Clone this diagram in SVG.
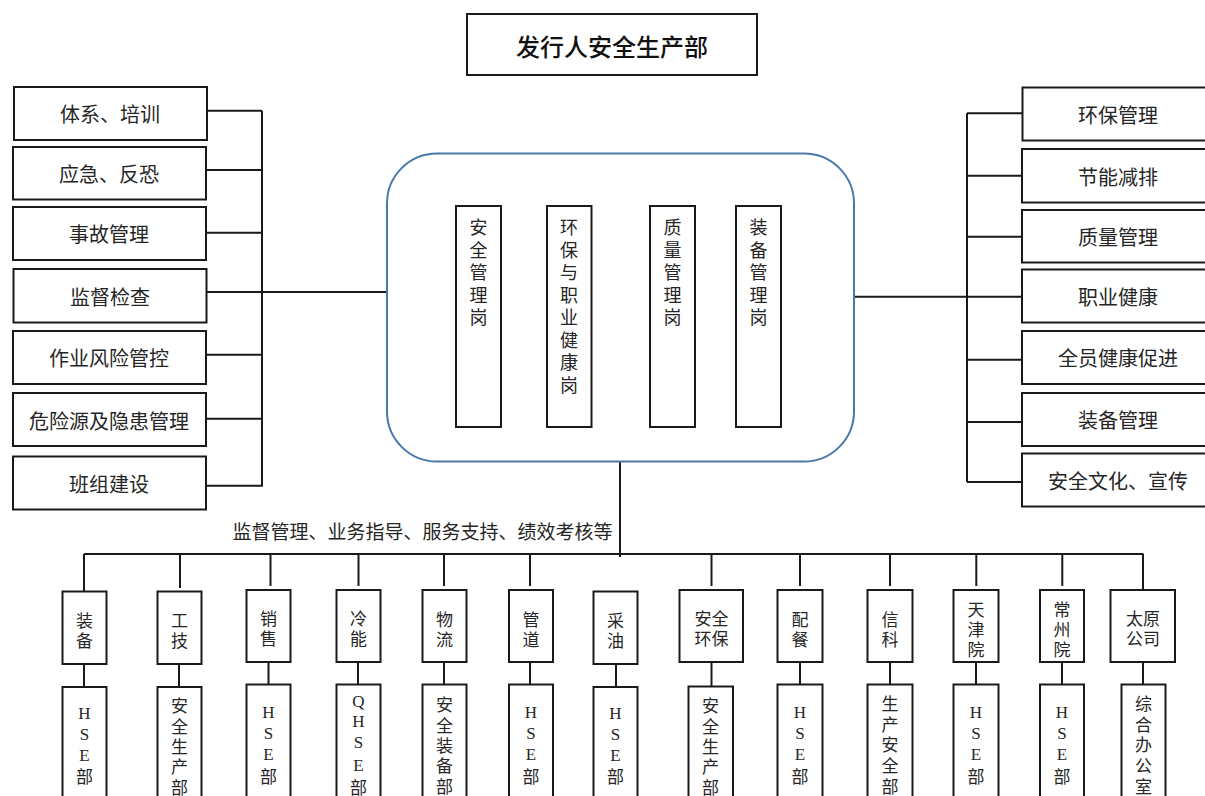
<svg xmlns="http://www.w3.org/2000/svg" width="1205" height="796" viewBox="0 0 1205 796">
<style>
.box{fill:#fff;stroke:#1a1a1a;stroke-width:2}
.ln{stroke:#1a1a1a;stroke-width:2;fill:none}
.t{font-family:"Noto Sans CJK SC","Noto Sans",sans-serif;fill:#262626;text-anchor:middle;dominant-baseline:central}
.big{font-size:20px}
.mid{font-size:18px}
.sm{font-size:17px}
.lat{font-family:"Liberation Serif","Noto Sans CJK SC",serif;font-size:17px}
</style>
<rect width="1205" height="796" fill="#fff"/>

<g id="connectors">
  <!-- left -->
  <path class="ln" d="M207 110.7H262M206 170H262M206 232.7H262M207 292H262M206 354.7H262M206 418.7H262M206 485.7H262M262 110.7V486.7M262 292H388"/>
  <!-- right -->
  <path class="ln" d="M850 296.7H967M967 113.3V482M967 113.3H1022M967 175.7H1022M967 236.7H1022M967 296.7H1022M967 359.7H1022M967 422H1022M967 482H1022"/>
  <!-- bottom -->
  <path class="ln" d="M620 462V557M84 554H1143.5"/>
  <path class="ln" d="M84 554V591.5M180 554V588M270.5 554V586M358.5 554V586M444 554V586M530 554V586M711.5 554V586M800 554V586M890 554V586M976.3 554V586M1062.3 554V586M1143 554V590"/>
  <path class="ln" d="M84 664V687M179 664V687M268.5 662V684.5M358 662V684.5M444 662V684.5M530 662V684.5M616 664V687M711.5 662V686.5M800 662V684.5M890 662V684.5M976 662V684.5M1062 662V684.5M1143 662V684.5"/>
</g>

<g id="title">
  <rect class="box" x="467" y="14" width="290" height="61"/>
  <text class="t" x="612" y="45" style="font-size:24px;font-weight:500;fill:#111">发行人安全生产部</text>
</g>

<g id="left-nodes">
  <g id="l1"><rect class="box" x="14" y="87" width="193" height="53"/><text class="t big" x="110" y="113">体系、培训</text></g>
  <g id="l2"><rect class="box" x="13" y="147" width="193" height="52.5"/><text class="t big" x="109" y="173">应急、反恐</text></g>
  <g id="l3"><rect class="box" x="13" y="207" width="193" height="53"/><text class="t big" x="109" y="233.5">事故管理</text></g>
  <g id="l4"><rect class="box" x="13.5" y="269" width="193" height="53.5"/><text class="t big" x="110" y="296">监督检查</text></g>
  <g id="l5"><rect class="box" x="13" y="331" width="193" height="53"/><text class="t big" x="109" y="357.5">作业风险管控</text></g>
  <g id="l6"><rect class="box" x="13" y="393" width="193" height="53"/><text class="t big" x="109" y="420">危险源及隐患管理</text></g>
  <g id="l7"><rect class="box" x="13" y="456.5" width="193" height="53"/><text class="t big" x="109" y="483">班组建设</text></g>
</g>

<g id="right-nodes">
  <g id="r1"><rect class="box" x="1022.5" y="87.5" width="190" height="53"/><text class="t big" x="1118" y="114">环保管理</text></g>
  <g id="r2"><rect class="box" x="1022" y="149" width="190" height="53.5"/><text class="t big" x="1118" y="176">节能减排</text></g>
  <g id="r3"><rect class="box" x="1022" y="210" width="190" height="52.5"/><text class="t big" x="1118" y="236.5">质量管理</text></g>
  <g id="r4"><rect class="box" x="1022" y="269.5" width="190" height="53"/><text class="t big" x="1118" y="296">职业健康</text></g>
  <g id="r5"><rect class="box" x="1022" y="331" width="190" height="53"/><text class="t big" x="1118" y="357.5">全员健康促进</text></g>
  <g id="r6"><rect class="box" x="1022" y="393" width="190" height="53"/><text class="t big" x="1118" y="419.5">装备管理</text></g>
  <g id="r7"><rect class="box" x="1022" y="453.5" width="190" height="53"/><text class="t big" x="1118" y="480.5">安全文化、宣传</text></g>
</g>

<g id="center">
  <rect x="387" y="153.5" width="467" height="308" rx="50" ry="50" fill="#fff" stroke="#4a78ab" stroke-width="2"/>
  <g id="c1"><rect class="box" x="456" y="206" width="45" height="221"/>
    <text class="t mid"><tspan x="478.5" y="226">安</tspan><tspan x="478.5" y="248.5">全</tspan><tspan x="478.5" y="271">管</tspan><tspan x="478.5" y="293.5">理</tspan><tspan x="478.5" y="316">岗</tspan></text></g>
  <g id="c2"><rect class="box" x="547" y="206" width="44.5" height="221"/>
    <text class="t mid"><tspan x="569" y="226">环</tspan><tspan x="569" y="248.5">保</tspan><tspan x="569" y="271">与</tspan><tspan x="569" y="293.5">职</tspan><tspan x="569" y="316">业</tspan><tspan x="569" y="338.5">健</tspan><tspan x="569" y="361">康</tspan><tspan x="569" y="383.5">岗</tspan></text></g>
  <g id="c3"><rect class="box" x="650" y="206" width="45" height="221"/>
    <text class="t mid"><tspan x="672.5" y="226">质</tspan><tspan x="672.5" y="248.5">量</tspan><tspan x="672.5" y="271">管</tspan><tspan x="672.5" y="293.5">理</tspan><tspan x="672.5" y="316">岗</tspan></text></g>
  <g id="c4"><rect class="box" x="736" y="206" width="45" height="221"/>
    <text class="t mid"><tspan x="758.5" y="226">装</tspan><tspan x="758.5" y="248.5">备</tspan><tspan x="758.5" y="271">管</tspan><tspan x="758.5" y="293.5">理</tspan><tspan x="758.5" y="316">岗</tspan></text></g>
</g>

<text id="bus-label" class="t" x="422.5" y="530" style="font-size:19px">监督管理、业务指导、服务支持、绩效考核等</text>

<g id="bottom-top">
  <g id="b1"><rect class="box" x="62.5" y="591.5" width="44" height="72.5"/><text class="t sm"><tspan x="84.5" y="619">装</tspan><tspan x="84.5" y="639">备</tspan></text></g>
  <g id="b2"><rect class="box" x="157.5" y="591.5" width="44" height="72.5"/><text class="t sm"><tspan x="179.5" y="619">工</tspan><tspan x="179.5" y="639">技</tspan></text></g>
  <g id="b3"><rect class="box" x="246.5" y="590" width="44" height="72"/><text class="t sm"><tspan x="268.5" y="617">销</tspan><tspan x="268.5" y="637">售</tspan></text></g>
  <g id="b4"><rect class="box" x="336.5" y="590" width="44" height="72"/><text class="t sm"><tspan x="358.5" y="617">冷</tspan><tspan x="358.5" y="637">能</tspan></text></g>
  <g id="b5"><rect class="box" x="422.5" y="590" width="44" height="72"/><text class="t sm"><tspan x="444.5" y="618">物</tspan><tspan x="444.5" y="638">流</tspan></text></g>
  <g id="b6"><rect class="box" x="509" y="590" width="44" height="72"/><text class="t sm"><tspan x="531" y="618">管</tspan><tspan x="531" y="638">道</tspan></text></g>
  <g id="b7"><rect class="box" x="593.5" y="591.5" width="44" height="72.5"/><text class="t sm"><tspan x="615.5" y="619">采</tspan><tspan x="615.5" y="639">油</tspan></text></g>
  <g id="b8"><rect class="box" x="679.5" y="590" width="63.5" height="72"/><text class="t sm"><tspan x="711.5" y="617">安全</tspan><tspan x="711.5" y="637">环保</tspan></text></g>
  <g id="b9"><rect class="box" x="777.5" y="590" width="45" height="72"/><text class="t sm"><tspan x="800" y="618">配</tspan><tspan x="800" y="638">餐</tspan></text></g>
  <g id="b10"><rect class="box" x="867.5" y="590" width="45" height="72"/><text class="t sm"><tspan x="890" y="618">信</tspan><tspan x="890" y="638">科</tspan></text></g>
  <g id="b11"><rect class="box" x="953.5" y="590" width="45" height="72"/><text class="t sm"><tspan x="976" y="608">天</tspan><tspan x="976" y="628">津</tspan><tspan x="976" y="648">院</tspan></text></g>
  <g id="b12"><rect class="box" x="1040" y="590" width="44" height="72"/><text class="t sm"><tspan x="1062" y="608">常</tspan><tspan x="1062" y="628">州</tspan><tspan x="1062" y="648">院</tspan></text></g>
  <g id="b13"><rect class="box" x="1110.5" y="590" width="64.5" height="72"/><text class="t sm"><tspan x="1143" y="617">太原</tspan><tspan x="1143" y="637">公司</tspan></text></g>
</g>

<g id="bottom-sub">
  <g id="s1"><rect class="box" x="62.5" y="687" width="44" height="130"/><text class="t lat"><tspan x="84.5" y="713">H</tspan><tspan x="84.5" y="734">S</tspan><tspan x="84.5" y="755">E</tspan></text><text class="t sm" x="84.5" y="775">部</text></g>
  <g id="s2"><rect class="box" x="157.5" y="687" width="44" height="130"/><text class="t sm"><tspan x="179.5" y="704">安</tspan><tspan x="179.5" y="725">全</tspan><tspan x="179.5" y="745">生</tspan><tspan x="179.5" y="765">产</tspan><tspan x="179.5" y="786">部</tspan></text></g>
  <g id="s3"><rect class="box" x="246.5" y="684.5" width="44" height="130"/><text class="t lat"><tspan x="268.5" y="712">H</tspan><tspan x="268.5" y="733">S</tspan><tspan x="268.5" y="754">E</tspan></text><text class="t sm" x="268.5" y="775">部</text></g>
  <g id="s4"><rect class="box" x="336.5" y="684.5" width="44" height="130"/><text class="t lat"><tspan x="358.5" y="701">Q</tspan><tspan x="358.5" y="721">H</tspan><tspan x="358.5" y="742">S</tspan><tspan x="358.5" y="765">E</tspan></text><text class="t sm" x="358.5" y="786">部</text></g>
  <g id="s5"><rect class="box" x="422.5" y="684.5" width="44" height="130"/><text class="t sm"><tspan x="444.5" y="703">安</tspan><tspan x="444.5" y="724">全</tspan><tspan x="444.5" y="744">装</tspan><tspan x="444.5" y="764">备</tspan><tspan x="444.5" y="785">部</tspan></text></g>
  <g id="s6"><rect class="box" x="509" y="684.5" width="44" height="130"/><text class="t lat"><tspan x="531" y="712">H</tspan><tspan x="531" y="733">S</tspan><tspan x="531" y="754">E</tspan></text><text class="t sm" x="531" y="775">部</text></g>
  <g id="s7"><rect class="box" x="593.5" y="687" width="44" height="130"/><text class="t lat"><tspan x="615.5" y="713">H</tspan><tspan x="615.5" y="734">S</tspan><tspan x="615.5" y="755">E</tspan></text><text class="t sm" x="615.5" y="775">部</text></g>
  <g id="s8"><rect class="box" x="688.5" y="686.5" width="44.5" height="130"/><text class="t sm"><tspan x="710.5" y="704">安</tspan><tspan x="710.5" y="725">全</tspan><tspan x="710.5" y="745">生</tspan><tspan x="710.5" y="765">产</tspan><tspan x="710.5" y="786">部</tspan></text></g>
  <g id="s9"><rect class="box" x="777.5" y="684.5" width="45" height="130"/><text class="t lat"><tspan x="800" y="712">H</tspan><tspan x="800" y="733">S</tspan><tspan x="800" y="754">E</tspan></text><text class="t sm" x="800" y="775">部</text></g>
  <g id="s10"><rect class="box" x="867.5" y="684.5" width="45" height="130"/><text class="t sm"><tspan x="890" y="702">生</tspan><tspan x="890" y="723">产</tspan><tspan x="890" y="743">安</tspan><tspan x="890" y="764">全</tspan><tspan x="890" y="785">部</tspan></text></g>
  <g id="s11"><rect class="box" x="953.5" y="684.5" width="45" height="130"/><text class="t lat"><tspan x="976" y="712">H</tspan><tspan x="976" y="733">S</tspan><tspan x="976" y="754">E</tspan></text><text class="t sm" x="976" y="775">部</text></g>
  <g id="s12"><rect class="box" x="1040" y="684.5" width="44" height="130"/><text class="t lat"><tspan x="1062" y="712">H</tspan><tspan x="1062" y="733">S</tspan><tspan x="1062" y="754">E</tspan></text><text class="t sm" x="1062" y="775">部</text></g>
  <g id="s13"><rect class="box" x="1121.5" y="684.5" width="44" height="130"/><text class="t sm"><tspan x="1143.5" y="702">综</tspan><tspan x="1143.5" y="723">合</tspan><tspan x="1143.5" y="743">办</tspan><tspan x="1143.5" y="764">公</tspan><tspan x="1143.5" y="785">室</tspan></text></g>
</g>
</svg>
